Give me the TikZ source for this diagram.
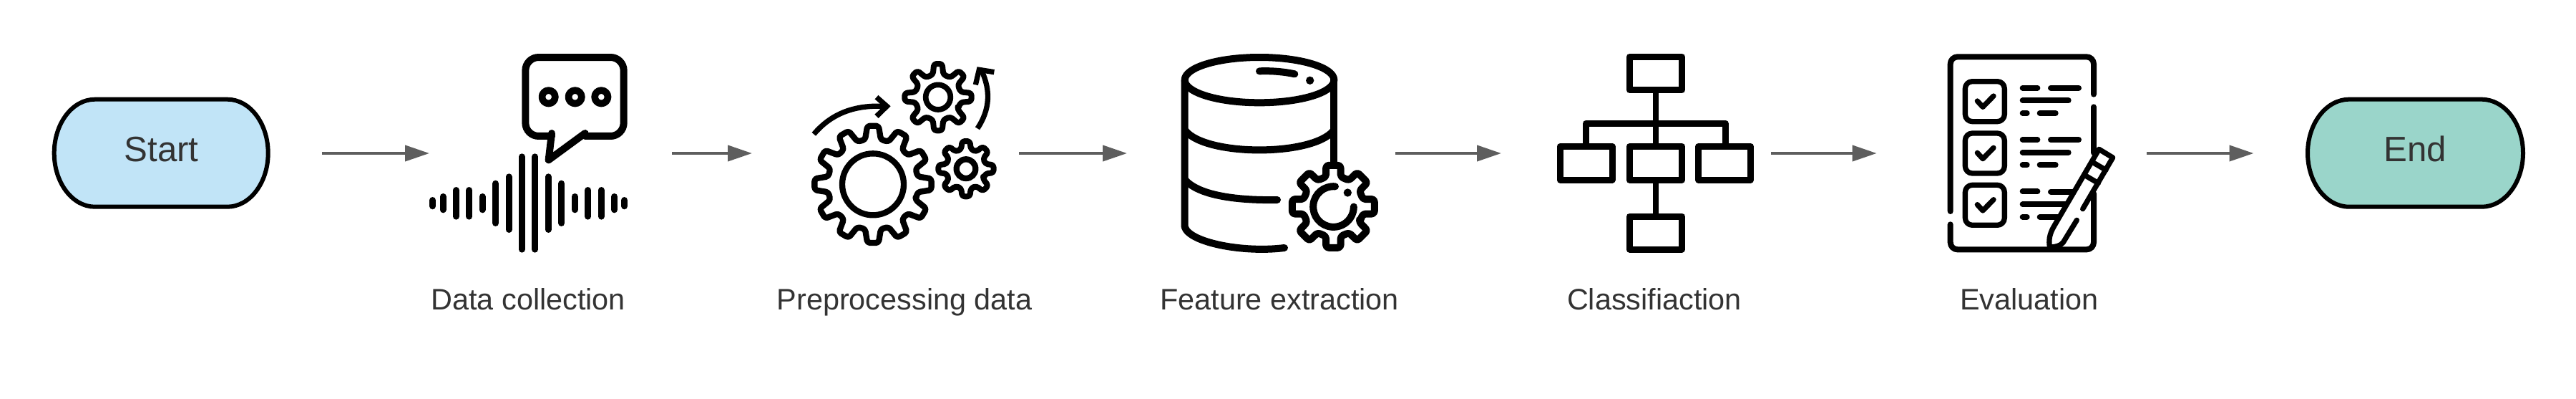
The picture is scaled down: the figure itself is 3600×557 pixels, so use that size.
\documentclass[tikz,border=0pt]{standalone}
\usepackage{fontspec}
\setmainfont{Liberation Sans}
\usetikzlibrary{arrows.meta}
\definecolor{startfill}{HTML}{C1E4F7}
\definecolor{endfill}{HTML}{9AD5CA}
\definecolor{flowgrey}{HTML}{5E5E5E}
\definecolor{textgrey}{HTML}{333333}
\tikzset{
  ink/.style={draw=black,line width=#1*0.25pt,line cap=round,line join=round},
  butt/.style={draw=black,line width=#1*0.25pt,line cap=butt,line join=miter},
  flow/.style={draw=flowgrey,line width=1pt,-{Triangle[length=8.5pt,width=5.5pt]}},
  term/.style={rectangle,inner sep=0pt,outer sep=0pt,minimum width=76pt,minimum height=39pt,
     text height=22.25pt,text depth=16.75pt,text=textgrey,font=\fontsize{12.3pt}{14pt}\selectfont},
  lab/.style={anchor=base,inner sep=0pt,text=textgrey,font=\fontsize{10.35pt}{12pt}\selectfont},
  iconbox/.style={rectangle,inner sep=0pt,outer sep=0pt,minimum height=1pt},
  zoomed/.style={shift={#1},scale=1/3}
}
% #1 centre x, #2 fill, #3 half straight width, #4 corner x radius
\newcommand{\stadium}[4]{%
  \draw[line width=1.5pt,draw=black,fill=#2]
    (#1-#3,138.7) -- (#1+#3,138.7) arc[start angle=-90,end angle=90,x radius=#4,y radius=75]
    -- (#1-#3,288.7) arc[start angle=90,end angle=270,x radius=#4,y radius=75] -- cycle;}
% #1 centre, #2 teeth, #3 tip radius, #4 root radius, #5 tip half angle, #6 base half angle, #7 stroke
\newcommand{\gearshape}[7]{%
  \begin{scope}[shift={#1}]
  \draw[ink=#7,fill=white,rounded corners=0.9pt]
    ({360/#2-#6}:#4)
    \foreach \i [evaluate=\i as \a using \i*360/#2] in {1,...,#2}{
      -- (\a-#5:#3) -- (\a+#5:#3) -- (\a+#6:#4) -- ({\a+360/#2-#6}:#4)
    } -- cycle;
  \end{scope}}
\begin{document}
\begin{tikzpicture}[x=0.25pt,y=-0.25pt]
\useasboundingbox[fill=white] (0,0) rectangle (3600,557);

% terminators
\stadium{225.2}{startfill}{92.5}{57}
\stadium{3375.5}{endfill}{92.5}{58}
\node[term] (start) at (225.5,214) {Start};
\node[term] (end) at (3375.5,214) {End};

% invisible extents of the icons, used by the connectors
\node[iconbox,minimum width=84.75pt] (dataicon) at (769.5,214) {};
\node[iconbox,minimum width=93.35pt] (prepicon) at (1237.7,214) {};
\node[iconbox,minimum width=93.75pt] (feaicon) at (1762.5,214) {};
\node[iconbox,minimum width=94.25pt] (clsicon) at (2286.5,214) {};
\node[iconbox,minimum width=94.35pt] (evalicon) at (2811.3,214) {};

% connectors
\draw[flow,shorten <=18.1pt] (start.east) -- (dataicon.west);
\draw[flow] (dataicon.east) -- (prepicon.west);
\draw[flow] (prepicon.east) -- (feaicon.west);
\draw[flow] (feaicon.east) -- (clsicon.west);
\draw[flow] (clsicon.east) -- (evalicon.west);
\draw[flow,shorten >=18.5pt] (evalicon.east) -- (end.west);

% labels
\node[lab] (l1) at (738.3,432) {Data collection};
\node[lab] (l2) at (1264,432) {Preprocessing data};
\node[lab] (l3) at (1788,432) {Feature extraction};
\node[lab] (l4) at (2312,432) {Classifiaction};
\node[lab] (l5) at (2836,432) {Evaluation};

% ---- icon 1: speech + waveform
\begin{scope}[zoomed={(590,60)}]
  \foreach \xx/\ya/\yb in {44/645/697,87/630/712,142/603/740,197/603/740,252/630/712,308/575/768,363/547/795,418/463/878,473/463/878,529/547/795,584/575/768,640/630/712,695/603/740,751/603/740,806/630/712,848/645/697}
    \draw[ink=9] (\xx,\ya+13.5) -- (\xx,\yb-13.5);
  \draw[ink=10,rounded corners=4.6pt] (543,390) -- (433,390) -- (433,60) -- (845,60) -- (845,390) -- (683,390);
  \draw[ink=10] (683,378) -- (530,490) -- (543,378);
  \foreach \xx in {530,641,751}
    \draw[ink=9.7] (\xx,226) circle[radius=27.5];
\end{scope}

% ---- icon 2: gears
\begin{scope}[zoomed={(1120,70)}]
  \gearshape{(300,562)}{12}{246}{190}{5.5}{10}{8.3}
  \draw[ink=8.3] (300,562) circle[radius=129];
  \gearshape{(573,197)}{8}{141}{97}{7}{13}{8}
  \draw[ink=7.7] (573,197) circle[radius=52];
  \gearshape{(690,497)}{8}{117}{84}{8}{14}{8}
  \draw[ink=8.3] (690,497) circle[radius=40];
  \draw[butt=7.3] (52,352) .. controls (130,260) and (230,230) .. (345,235);
  \draw[butt=7.3] (315,197) -- (358,235) -- (315,277);
  \draw[butt=7.3] (738,328) .. controls (790,250) and (795,170) .. (755,85);
  \draw[butt=7.3] (730,145) -- (745,82) -- (808,92);
\end{scope}

% ---- icon 3: database with gear
\begin{scope}[zoomed={(1620,60)}]
  \draw[ink=10] (420,155) ellipse[x radius=313,y radius=95];
  \draw[ink=10] (733,155) -- (733,500);
  \draw[ink=10] (107,155) -- (107,770) .. controls (125,835) and (350,880) .. (525,858);
  \draw[ink=10] (110,368) .. controls (200,475) and (640,475) .. (730,368);
  \draw[ink=10] (110,575) .. controls (170,640) and (330,660) .. (495,657);
  \draw[ink=10] (420,118) .. controls (470,116) and (520,120) .. (568,130);
  \fill (632,157) circle[radius=17];
  \gearshape{(730,685)}{8}{175}{128}{10}{14}{10}
  \draw[ink=10] (738,601) arc[start angle=-85,end angle=-360,radius=85];
  \fill (790,627) circle[radius=17];
\end{scope}

% ---- icon 4: hierarchy
\begin{scope}
  \draw[ink=8] (2313.7,125) -- (2313.7,204) (2313.7,251) -- (2313.7,302);
  \draw[ink=9] (2216.7,204) -- (2216.7,172) -- (2411,172) -- (2411,204);
  \draw[ink=9] (2277,79.5) rectangle (2350.6,125.5);
  \draw[ink=9] (2180,204.5) rectangle (2253,251);
  \draw[ink=9] (2277,204.5) rectangle (2350.6,251);
  \draw[ink=9] (2373.5,204.5) rectangle (2446.5,251);
  \draw[ink=9] (2277,302) rectangle (2350.6,348);
\end{scope}

% ---- icon 5: checklist with pen
\begin{scope}[zoomed={(2680,60)}]
  \draw[ink=8,rounded corners=2.5pt] (137,705) -- (137,58) -- (738,58) -- (738,215);
  \draw[ink=8] (738,268) -- (738,460);
  \draw[ink=8,rounded corners=2.5pt] (738,630) -- (738,865) -- (137,865) -- (137,760);
  \foreach \dy in {0,217,434}{
    \draw[ink=7.3,rounded corners=2.5pt] (199,161+\dy) rectangle (364,329+\dy);
    \draw[ink=7.3] (250,243+\dy) -- (273,268+\dy) -- (318,222+\dy);
  }
  \foreach \dy in {0,217,434}{
    \draw[ink=8] (440,188+\dy) -- (502,188+\dy);
    \draw[ink=8] (440,294+\dy) -- (458,294+\dy);
  }
  \foreach \dy in {0,217}{
    \draw[ink=8] (558,188+\dy) -- (675,188+\dy);
    \draw[ink=8] (440,241+\dy) -- (632,241+\dy);
    \draw[ink=8] (512,294+\dy) -- (578,294+\dy);
  }
  \draw[ink=8] (558,623) -- (650,623);
  \draw[ink=8] (440,676) -- (620,676);
  \draw[ink=8] (512,729) -- (590,729);
  \fill[white] (760,445) -- (818,480) -- (610,835) -- (553,855) -- (555,795) -- cycle;
  \draw[ink=7.3] (692,695) -- (818,480) -- (760,445) -- (570,770) .. controls (550,805) and (550,830) .. (553,852);
  \draw[ink=7.3] (667,742) -- (610,835) .. controls (600,850) and (575,855) .. (553,855);
  \draw[ink=7.3] (731,498) -- (789,532);
  \draw[ink=7.3] (699,553) -- (757,587);
\end{scope}
\end{tikzpicture}
\end{document}
